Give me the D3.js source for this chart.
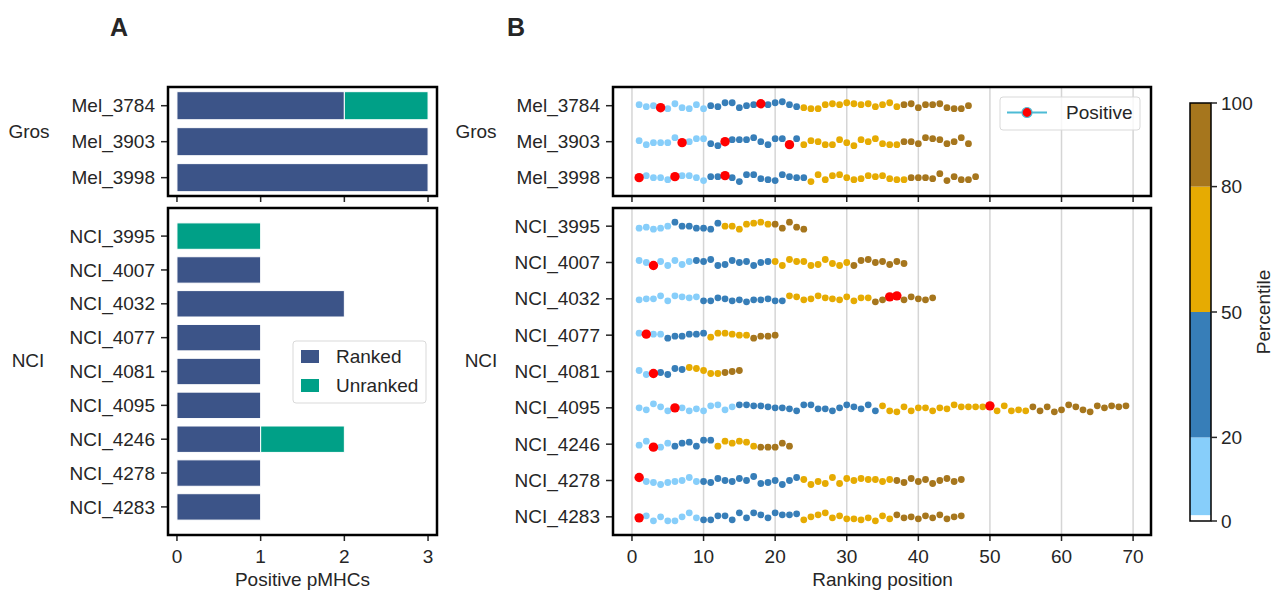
<!DOCTYPE html>
<html>
<head>
<meta charset="utf-8">
<script src="https://cdn.jsdelivr.net/npm/d3@7"></script>
<style>
  body { margin: 0; background: #fff; }
  text { font-family: "Liberation Sans", Arial, sans-serif; fill: #262626; }
</style>
</head>
<body>
<div id="chart"></div>
<script>
// ---- data ----
const grosSamples = ["Mel_3784", "Mel_3903", "Mel_3998"];
const nciSamples = ["NCI_3995", "NCI_4007", "NCI_4032", "NCI_4077", "NCI_4081", "NCI_4095", "NCI_4246", "NCI_4278", "NCI_4283"];
const samples = grosSamples.concat(nciSamples);

// panel A: positive pMHCs per sample
const rankedCounts = [2, 3, 3, 0, 1, 2, 1, 1, 1, 1, 1, 1];
const unrankedCounts = [1, 0, 0, 1, 0, 0, 0, 0, 0, 1, 0, 0];

// panel B: number of ranked pMHCs, and ranks of the positives
const listSizes = [47, 47, 48, 24, 38, 42, 20, 15, 69, 22, 46, 46];
const positiveRanks = [[4, 18], [7, 13, 22], [1, 6, 13], [], [3], [36, 37], [2], [3], [6, 50], [3], [1], [1]];
// vertical strip jitter, one digit per point (4 = centre)
const jitter = [
  "35467267374511643231035677323123253153263326774",
  "37555054116842220471171734772582416774460126406",
  "424463224733248115671344816214652325664445073663",
  "657640446671447210226057",
  "24737263231762437433713376157472143635",
  "544161232663465755466125413452633752152453",
  "23337553326223447554",
  "376571201366543",
  "460374475721631122344571155741351727837447451333327276737386136824232",
  "5177363260061312677736",
  "1568654155624524076484138571724233534625374253",
  "5384884057733705025022174205366758362546352643"
];

const pctTicks = [0, 20, 50, 80, 100];
const pctColors = ["#87CEFA", "#377EB8", "#E6AB02", "#A6761D"];
const xTicksA = [0, 1, 2, 3];
const xTicksB = [0, 10, 20, 30, 40, 50, 60, 70];

// ---- layout ----
const W = 1273, H = 591;
const svg = d3.select("#chart").append("svg").attr("width", W).attr("height", H);
const ink = "#262626";
const topBox = [87, 196], botBox = [208, 535];

const xA = d3.scaleLinear().domain([-0.107, 3.107]).range([168, 437]);
const xB = d3.scaleLinear().domain([-2.65, 72.5]).range([613, 1151]);
const yTop = d3.scaleLinear().domain([-0.52, 2.51]).range(topBox);
const yBotA = d3.scaleLinear().domain([-0.83, 8.83]).range(botBox);
const yBotB = d3.scaleLinear().domain([-0.5, 8.5]).range(botBox);

const pctColor = d3.scaleThreshold().domain([20, 50, 80]).range(pctColors);

function rowY(i, panel) {
  if (i < 3) return yTop(i);
  return panel === "A" ? yBotA(i - 3) : yBotB(i - 3);
}
function rowStep(i, panel) {
  if (i < 3) return yTop(1) - yTop(0);
  return panel === "A" ? yBotA(1) - yBotA(0) : yBotB(1) - yBotB(0);
}

// frame + ticks for one box
function drawBox(x, box, names, yFn, showX, ticks, grid) {
  const g = svg.append("g");
  if (grid) {
    g.selectAll("line.grid").data(ticks).enter().append("line")
      .attr("x1", d => x(d)).attr("x2", d => x(d))
      .attr("y1", box[0]).attr("y2", box[1])
      .attr("stroke", "#d5d5d5").attr("stroke-width", 1.5);
  }
  // x ticks
  g.selectAll("line.xt").data(ticks).enter().append("line")
    .attr("x1", d => x(d)).attr("x2", d => x(d))
    .attr("y1", box[1]).attr("y2", box[1] + 6)
    .attr("stroke", ink).attr("stroke-width", 1.5);
  if (showX) {
    g.selectAll("text.xl").data(ticks).enter().append("text")
      .attr("x", d => x(d)).attr("y", box[1] + 28)
      .attr("text-anchor", "middle").attr("font-size", 19).text(d => d);
  }
  // y ticks and labels
  const x0 = x.range()[0];
  names.forEach((n, k) => {
    const yy = yFn(k);
    g.append("line").attr("x1", x0 - 7).attr("x2", x0).attr("y1", yy).attr("y2", yy)
      .attr("stroke", ink).attr("stroke-width", 1.5);
    g.append("text").attr("x", x0 - 13).attr("y", yy).attr("dy", "0.35em")
      .attr("text-anchor", "end").attr("font-size", 19).text(n);
  });
  return g;
}
function drawFrame(x, box) {
  svg.append("rect").attr("x", x.range()[0]).attr("y", box[0])
    .attr("width", x.range()[1] - x.range()[0]).attr("height", box[1] - box[0])
    .attr("fill", "none").attr("stroke", "#000").attr("stroke-width", 2.5);
}

// ---- panel A ----
drawBox(xA, topBox, grosSamples, k => yTop(k), false, xTicksA, false);
drawBox(xA, botBox, nciSamples, k => yBotA(k), true, xTicksA, false);

const barData = samples.map((s, i) => ({ s, i, ranked: rankedCounts[i], unranked: unrankedCounts[i] }));
const bars = svg.append("g");
barData.forEach(d => {
  const h = rowStep(d.i, "A") * 0.78;
  const yy = rowY(d.i, "A") - h / 2;
  if (d.ranked > 0)
    bars.append("rect").attr("x", xA(0)).attr("y", yy)
      .attr("width", xA(d.ranked) - xA(0)).attr("height", h)
      .attr("fill", "#3C5488").attr("stroke", "#fff").attr("stroke-width", 1);
  if (d.unranked > 0)
    bars.append("rect").attr("x", xA(d.ranked)).attr("y", yy)
      .attr("width", xA(d.ranked + d.unranked) - xA(d.ranked)).attr("height", h)
      .attr("fill", "#00A087").attr("stroke", "#fff").attr("stroke-width", 1);
});
drawFrame(xA, topBox);
drawFrame(xA, botBox);

svg.append("text").attr("x", xA(1.5)).attr("y", 586).attr("text-anchor", "middle")
  .attr("font-size", 19).text("Positive pMHCs");
svg.append("text").attr("x", 29).attr("y", 131).attr("dy", "0.35em").attr("text-anchor", "middle")
  .attr("font-size", 19).text("Gros");
svg.append("text").attr("x", 28).attr("y", 360).attr("dy", "0.35em").attr("text-anchor", "middle")
  .attr("font-size", 19).text("NCI");

// legend A
const legA = svg.append("g").attr("transform", "translate(293,341)");
legA.append("rect").attr("width", 133).attr("height", 62).attr("rx", 3)
  .attr("fill", "#fff").attr("fill-opacity", 0.8).attr("stroke", "#d9d9d9");
[["Ranked", "#3C5488"], ["Unranked", "#00A087"]].forEach((e, k) => {
  legA.append("rect").attr("x", 8).attr("y", 9 + k * 29).attr("width", 18).attr("height", 13).attr("fill", e[1]);
  legA.append("text").attr("x", 43).attr("y", 15.5 + k * 29).attr("dy", "0.35em")
    .attr("font-size", 19).text(e[0]);
});

// ---- panel B ----
drawBox(xB, topBox, grosSamples, k => yTop(k), false, xTicksB, true);
drawBox(xB, botBox, nciSamples, k => yBotB(k), true, xTicksB, true);

const points = [];
samples.forEach((s, i) => {
  const n = listSizes[i];
  const step = rowStep(i, "B");
  for (let p = 1; p <= n; p++) {
    const pct = 100 * (p - 1) / (n - 1);
    const off = (+jitter[i][p - 1] - 4) / 4 * 0.11 * step;
    points.push({ s, i, p, pct, y: rowY(i, "B") + off, pos: positiveRanks[i].includes(p) });
  }
});
const dots = svg.append("g");
dots.selectAll("circle.n").data(points.filter(d => !d.pos)).enter().append("circle")
  .attr("cx", d => xB(d.p)).attr("cy", d => d.y).attr("r", 3.4)
  .attr("fill", d => pctColor(d.pct));
dots.selectAll("circle.p").data(points.filter(d => d.pos)).enter().append("circle")
  .attr("cx", d => xB(d.p)).attr("cy", d => d.y).attr("r", 4.7)
  .attr("fill", "#FF0000");
drawFrame(xB, topBox);
drawFrame(xB, botBox);

svg.append("text").attr("x", xB(35)).attr("y", 586).attr("text-anchor", "middle")
  .attr("font-size", 19).text("Ranking position");
svg.append("text").attr("x", 476).attr("y", 131).attr("dy", "0.35em").attr("text-anchor", "middle")
  .attr("font-size", 19).text("Gros");
svg.append("text").attr("x", 481).attr("y", 360).attr("dy", "0.35em").attr("text-anchor", "middle")
  .attr("font-size", 19).text("NCI");

// legend B
const legB = svg.append("g").attr("transform", "translate(1000,97)");
legB.append("rect").attr("width", 140).attr("height", 33).attr("rx", 3)
  .attr("fill", "#fff").attr("fill-opacity", 0.8).attr("stroke", "#d9d9d9");
legB.append("line").attr("x1", 7).attr("x2", 47).attr("y1", 15.5).attr("y2", 15.5)
  .attr("stroke", "#4DBBD5").attr("stroke-width", 2);
legB.append("circle").attr("cx", 27).attr("cy", 15.5).attr("r", 5)
  .attr("fill", "#FF0000").attr("stroke", "#4DBBD5").attr("stroke-width", 1.2);
legB.append("text").attr("x", 66).attr("y", 15.5).attr("dy", "0.35em").attr("font-size", 19).text("Positive");

// ---- colorbar ----
const cb = d3.scaleLinear().domain([0, 100]).range([521, 103]);
const cbX = 1190, cbW = 21;
const segs = [[1.4, 20, pctColors[0]], [20, 50, pctColors[1]], [50, 80, pctColors[2]], [80, 100, pctColors[3]]];
svg.append("g").selectAll("rect").data(segs).enter().append("rect")
  .attr("x", cbX).attr("width", cbW)
  .attr("y", d => cb(d[1])).attr("height", d => cb(d[0]) - cb(d[1]))
  .attr("fill", d => d[2]);
svg.append("rect").attr("x", cbX).attr("y", cb(100)).attr("width", cbW).attr("height", cb(0) - cb(100))
  .attr("fill", "none").attr("stroke", "#000").attr("stroke-width", 1.5);
const cbAxis = svg.append("g");
pctTicks.forEach(t => {
  cbAxis.append("line").attr("x1", cbX + cbW).attr("x2", cbX + cbW + 6).attr("y1", cb(t)).attr("y2", cb(t))
    .attr("stroke", ink).attr("stroke-width", 1.5);
  cbAxis.append("text").attr("x", cbX + cbW + 10).attr("y", cb(t)).attr("dy", "0.35em")
    .attr("font-size", 19).text(t);
});
svg.append("text").attr("transform", "translate(1270,312) rotate(-90)").attr("text-anchor", "middle")
  .attr("font-size", 19).text("Percentile");

// panel letters
svg.append("text").attr("x", 119).attr("y", 36).attr("text-anchor", "middle")
  .attr("font-size", 25).attr("font-weight", "bold").text("A");
svg.append("text").attr("x", 516).attr("y", 36).attr("text-anchor", "middle")
  .attr("font-size", 25).attr("font-weight", "bold").text("B");
</script>
</body>
</html>
